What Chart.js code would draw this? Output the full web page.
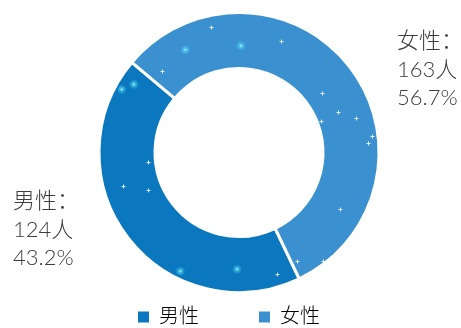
<!DOCTYPE html>
<html lang="zh">
<head>
<meta charset="utf-8">
<title>性别分布</title>
<script src="https://cdn.jsdelivr.net/npm/chart.js@4.4.0/dist/chart.umd.min.js"></script>
<style>
  html, body { margin: 0; padding: 0; background: #fff; }
  #wrap { width: 461px; height: 328px; position: relative; }
</style>
</head>
<body>
<div id="wrap"><canvas id="grafico-genero"></canvas></div>
<script>
/* ── 数据 ─────────────────────────────────────────────── */
const categorias  = ['男性', '女性'];
const pessoas     = [124, 163];
const percentuais = ['43.2%', '56.7%'];

/* ── 样式 ─────────────────────────────────────────────── */
const cores      = ['#0a77be', '#3b90d0'];
const corTexto   = '#3d3d3d';
const fonteTexto = 'Lato, "Noto Sans CJK JP", sans-serif';

// 外部标签相对圆心的位置（左下：男性，右上：女性）
const ancorasRotulo = [
  { dx: -226, dy: 55.5 },
  { dx: 158,  dy: -104.5 },
];
const alturaLinha = 28.5;

// 环上的星光点缀，以外半径为单位（相对圆心）
const brilhos = [
  [-0.751, -0.487], [-0.838, -0.451], [-0.383, -0.733],
  [0.014, -0.762], [-0.419, 0.848], [-0.014, 0.834],
];
const cruzes = [
  [0.592, -0.422], [0.708, -0.292], [0.585, -0.227], [0.838, -0.249],
  [0.953, -0.119], [0.924, -0.069], [0.412, 0.776], [0.597, 0.776],
  [0.272, 0.868], [-0.650, 0.069], [-0.650, 0.27], [-0.83, 0.24],
  [-0.55, -0.58], [0.30, -0.80], [-0.20, -0.90], [0.72, 0.40],
];

/* ── 插件 ─────────────────────────────────────────────── */

/** 在扇区上画出小星光 */
const pluginBrilho = {
  id: 'brilho',
  afterDatasetsDraw(chart) {
    const arco = chart.getDatasetMeta(0).data[0];
    if (!arco) return;
    const { x, y, outerRadius: r } = arco;
    const ctx = chart.ctx;
    ctx.save();

    brilhos.forEach(([fx, fy]) => {
      const px = x + fx * r, py = y + fy * r;
      const g = ctx.createRadialGradient(px, py, 0, px, py, 5);
      g.addColorStop(0, 'rgba(220,255,255,1)');
      g.addColorStop(0.3, 'rgba(90,230,255,0.6)');
      g.addColorStop(1, 'rgba(90,230,255,0)');
      ctx.fillStyle = g;
      ctx.beginPath();
      ctx.arc(px, py, 5, 0, Math.PI * 2);
      ctx.fill();
    });

    ctx.strokeStyle = 'rgba(255,255,255,0.85)';
    ctx.lineWidth = 1;
    cruzes.forEach(([fx, fy]) => {
      const px = Math.round(x + fx * r) + 0.5, py = Math.round(y + fy * r) + 0.5;
      ctx.beginPath();
      ctx.moveTo(px - 2, py); ctx.lineTo(px + 2, py);
      ctx.moveTo(px, py - 2); ctx.lineTo(px, py + 2);
      ctx.stroke();
    });
    ctx.restore();
  },
};

/** 在环外写出 “类别：/人数/占比” */
const pluginRotulos = {
  id: 'rotulosExternos',
  afterDraw(chart) {
    const arco = chart.getDatasetMeta(0).data[0];
    if (!arco) return;
    const ctx = chart.ctx;
    ctx.save();
    ctx.fillStyle = corTexto;
    ctx.font = `300 22px ${fonteTexto}`;
    ctx.textAlign = 'left';
    ctx.textBaseline = 'alphabetic';
    categorias.forEach((cat, i) => {
      const a = ancorasRotulo[i];
      const x0 = arco.x + a.dx, y0 = arco.y + a.dy;
      const linhas = [`${cat}：`, `${pessoas[i]}人`, percentuais[i]];
      linhas.forEach((t, k) => ctx.fillText(t, x0, y0 + k * alturaLinha));
    });
    ctx.restore();
  },
};

/* ── 图表 ─────────────────────────────────────────────── */
new Chart(document.getElementById('grafico-genero'), {
  type: 'doughnut',
  data: {
    labels: categorias,
    datasets: [{
      data: pessoas,
      backgroundColor: cores,
      hoverBackgroundColor: cores,
      borderColor: '#fff',
      borderWidth: 3,
      hoverBorderWidth: 3,
      clip: false,
    }],
  },
  options: {
    responsive: true,
    maintainAspectRatio: false,
    animation: false,
    events: [],
    rotation: 154.5,
    radius: 140,
    cutout: '60%',
    layout: { padding: { left: 17, right: 0, top: 18, bottom: -9 } },
    plugins: {
      tooltip: { enabled: false },
      legend: {
        position: 'bottom',
        labels: {
          boxWidth: 11,
          boxHeight: 11,
          padding: 20,
          color: corTexto,
          font: { size: 20, family: fonteTexto, weight: '300' },
          generateLabels(chart) {
            // 补全角空格，拉开两个图例的距离并让整体略向左
            return categorias.map((c, i) => ({
              text: c + (i < categorias.length - 1 ? '　　' : '　'),
              fillStyle: cores[i],
              strokeStyle: cores[i],
              lineWidth: 0,
              hidden: false,
              index: i,
            }));
          },
        },
      },
    },
  },
  plugins: [pluginBrilho, pluginRotulos],
});
</script>
</body>
</html>
